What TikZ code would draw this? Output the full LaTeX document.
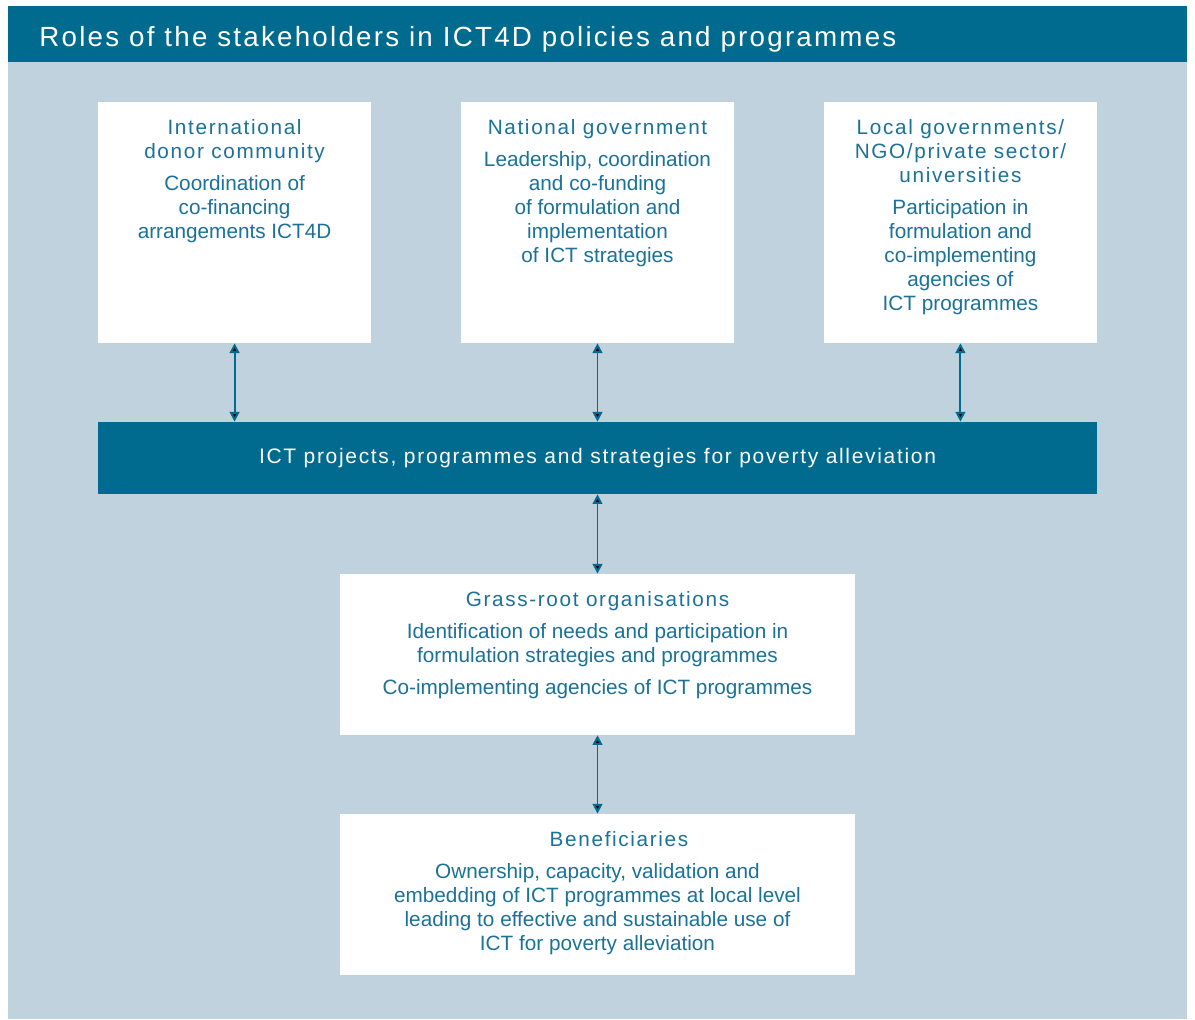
\documentclass[tikz,border=0pt]{standalone}
\usepackage{fontspec}
\setmainfont{Liberation Sans}
\newfontfamily\headfont[LetterSpace=8]{Liberation Sans}
\newfontfamily\bodyfont{Liberation Sans}
\usetikzlibrary{arrows.meta,positioning}

\definecolor{ictblue}{HTML}{006A8F}
\definecolor{panelgrey}{HTML}{BFD2DE}
\definecolor{txtblue}{HTML}{1C7197}

\begin{document}
\begin{tikzpicture}[%
    x=0.02cm, y=-0.02cm,
    >={Triangle[length=5.5pt,width=5.5pt]},
    on grid,
    role/.style={fill=white, inner sep=0pt, minimum width=5.46cm, minimum height=4.82cm},
    wide/.style={role, minimum width=10.3cm, minimum height=3.22cm},
    roletext/.style={anchor=north, yshift=-0.35cm, inner sep=0pt, align=center,
      text=txtblue, font=\fontsize{11.8}{13.66}\selectfont},
    link/.style={<->, draw=ictblue, line width=1.1pt}
  ]
  \useasboundingbox (0,0) rectangle (1195,1019);
  \fill[panelgrey] (8,62) rectangle (1187,1019);
  \fill[ictblue] (8,6) rectangle (1187,62);
  \node[anchor=base west, inner sep=0pt, text=white,
    font=\headfont\fontsize{15.8}{18}\selectfont] (title) at (39,46.5)
    {Roles of the stakeholders in ICT4D policies and programmes};

  % boxes
  \node[role] (national) at (597.5,222.5) {};
  \node[role] (donor) [left=7.26cm of national] {};
  \node[role] (local) [right=7.26cm of national] {};
  \node[fill=ictblue, inner sep=0pt, minimum width=19.98cm, minimum height=1.44cm,
    text=white, font=\headfont\fontsize{11.95}{13.66}\selectfont] (ictbar) [below=4.71cm of national]
    {ICT projects, programmes and strategies for poverty alleviation};
  \node[wide] (grassroot) [below=3.93cm of ictbar] {};
  \node[wide] (benef) [below=4.8cm of grassroot] {};

  % texts
  \node[roletext] (donor-txt) at (donor.north)
    {\headfont International\\\headfont donor community\\[4.55pt]\bodyfont Coordination of\\co-financing\\arrangements ICT4D};
  \node[roletext] (national-txt) at (national.north)
    {\headfont National government\\[4.55pt]\bodyfont Leadership, coordination\\and co-funding\\of formulation and\\implementation\\of ICT strategies};
  \node[roletext] (local-txt) at (local.north)
    {\headfont Local governments/\\\headfont NGO/private sector/\\\headfont universities\\[4.55pt]\bodyfont Participation in\\formulation and\\co-implementing\\agencies of\\ICT programmes};
  \node[roletext] (grassroot-txt) at (grassroot.north)
    {\headfont Grass-root organisations\\[4.55pt]\bodyfont Identification of needs and participation in\\formulation strategies and programmes\\[4.55pt]Co-implementing agencies of ICT programmes};
  \node[roletext] (benef-txt) at (benef.north)
    {\hspace*{24.5pt}\headfont Beneficiaries\\[4.55pt]\bodyfont Ownership, capacity, validation and\\embedding of ICT programmes at local level\\leading to effective and sustainable use of\\ICT for poverty alleviation};

  % arrows
  \path[link] (donor) edge (donor |- ictbar.north);
  \path[link] (national) edge (ictbar);
  \path[link] (local) edge (local |- ictbar.north);
  \path[link] (ictbar) edge (grassroot);
  \path[link] (grassroot) edge (benef);
\end{tikzpicture}
\end{document}
